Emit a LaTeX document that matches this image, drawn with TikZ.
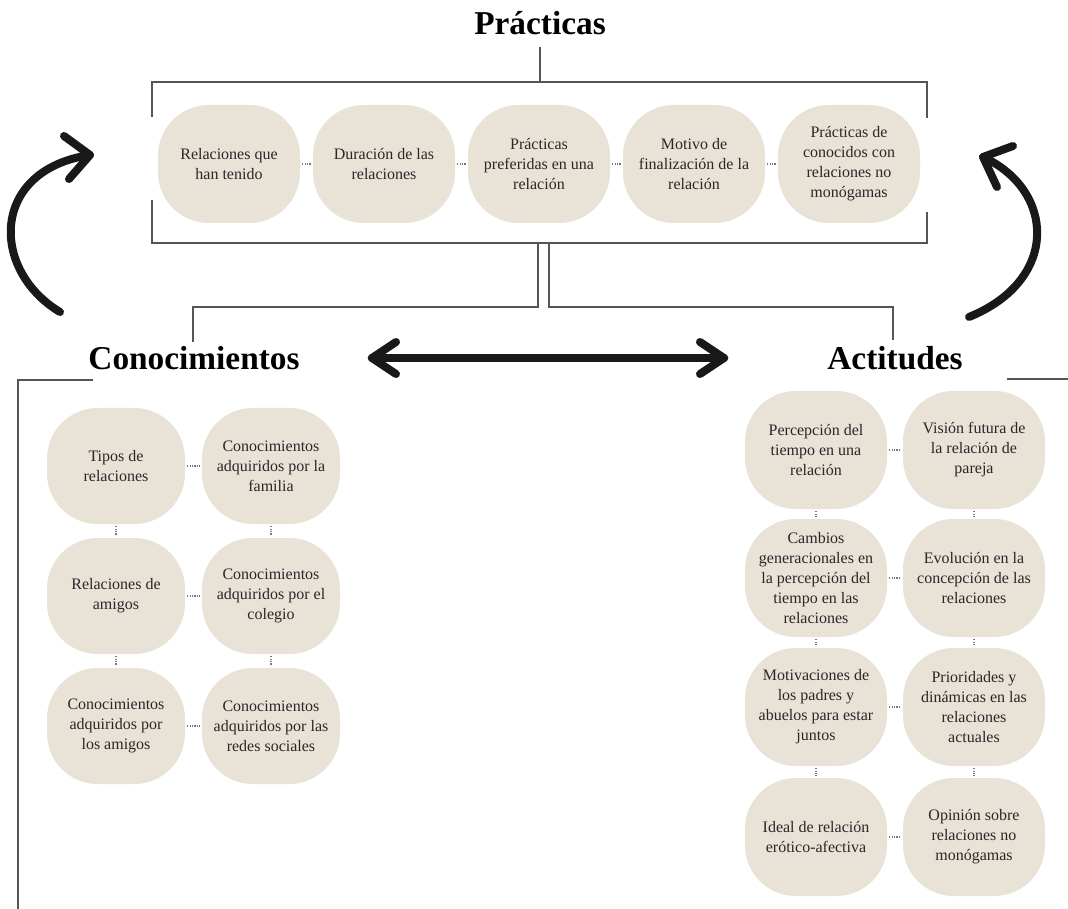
\documentclass[tikz,border=0pt]{standalone}
\usepackage{fontspec}
\setmainfont{Liberation Serif}
\begin{document}
\begin{tikzpicture}[x=0.75pt,y=-0.75pt]
\definecolor{bub}{RGB}{233,226,215}
\definecolor{ln}{RGB}{85,85,85}
\definecolor{txt}{RGB}{40,40,40}
\tikzset{
 bubble/.style={fill=bub, rounded corners=38pt, minimum width=106.5pt, minimum height=88.5pt, inner sep=0pt, align=center, text=txt, font=\fontsize{12}{15}\selectfont},
 cbubble/.style={bubble, minimum width=103.5pt, minimum height=87pt},
 title/.style={font=\fontsize{25}{30}\selectfont\bfseries, anchor=base, inner sep=0pt},
 frame/.style={draw=ln, line width=1.4pt},
 dotc/.style={draw=ln!80, line width=0.8pt, densely dotted, shorten <=1.5pt, shorten >=1.5pt},
 bigarrow/.style={draw=black!90, line width=6pt, line cap=round, line join=round},
}
\useasboundingbox (0,0) rectangle (1068,909);

% titles
\node[title] (tP) at (540,35) {Prácticas};
\node[title] (tC) at (194,370) {Conocimientos};
\node[title] (tA) at (895,370) {Actitudes};

% Practicas bubbles
\node[bubble] (p1) at (229,164) {Relaciones que\\han tenido};
\node[bubble] (p2) at (384,164) {Duración de las\\relaciones};
\node[bubble] (p3) at (539,164) {Prácticas\\preferidas en una\\relación};
\node[bubble] (p4) at (694,164) {Motivo de\\finalización de la\\relación};
\node[bubble] (p5) at (849,164) {Prácticas de\\conocidos con\\relaciones no\\monógamas};
\foreach \a/\b in {p1/p2,p2/p3,p3/p4,p4/p5} \draw[dotc] (\a.east) -- (\b.west);

% Conocimientos bubbles
\node[cbubble] (c11) at (116,466) {Tipos de\\relaciones};
\node[cbubble] (c12) at (271,466) {Conocimientos\\adquiridos por la\\familia};
\node[cbubble] (c21) at (116,596) {Relaciones de\\amigos};
\node[cbubble] (c22) at (271,596) {Conocimientos\\adquiridos por el\\colegio};
\node[cbubble] (c31) at (116,726) {Conocimientos\\adquiridos por\\los amigos};
\node[cbubble] (c32) at (271,726) {Conocimientos\\adquiridos por las\\redes sociales};
\foreach \a/\b in {c11/c12,c21/c22,c31/c32} \draw[dotc] (\a.east) -- (\b.west);
\foreach \a/\b in {c11/c21,c21/c31,c12/c22,c22/c32} \draw[dotc] (\a.south) -- (\b.north);

% Actitudes bubbles
\node[bubble] (a11) at (816,450) {Percepción del\\tiempo en una\\relación};
\node[bubble] (a12) at (974,450) {Visión futura de\\la relación de\\pareja};
\node[bubble] (a21) at (816,578) {Cambios\\generacionales en\\la percepción del\\tiempo en las\\relaciones};
\node[bubble] (a22) at (974,578) {Evolución en la\\concepción de las\\relaciones};
\node[bubble] (a31) at (816,707) {Motivaciones de\\los padres y\\abuelos para estar\\juntos};
\node[bubble] (a32) at (974,707) {Prioridades y\\dinámicas en las\\relaciones\\actuales};
\node[bubble] (a41) at (816,837) {Ideal de relación\\erótico-afectiva};
\node[bubble] (a42) at (974,837) {Opinión sobre\\relaciones no\\monógamas};
\foreach \a/\b in {a11/a12,a21/a22,a31/a32,a41/a42} \draw[dotc] (\a.east) -- (\b.west);
\foreach \a/\b in {a11/a21,a21/a31,a31/a41,a12/a22,a22/a32,a32/a42} \draw[dotc] (\a.south) -- (\b.north);

% frame of Practicas
\draw[frame] (540,47) -- (540,82);
\draw[frame] (152,117) -- (152,82) -- (927,82) -- (927,118);
\draw[frame] (152,200) -- (152,243) -- (927,243) -- (927,212);
% branches
\draw[frame] (538,243) -- (538,307) -- (193,307) -- (193,342);
\draw[frame] (549,243) -- (549,307) -- (893,307) -- (893,340);
% Conocimientos frame
\draw[frame] (93,380) -- (18,380) -- (18,912);
% Actitudes line
\draw[frame] (1007,379) -- (1070,379);

% curved arrows
\coordinate (lt) at (90,155);
\draw[bigarrow] (60,312) .. controls (-10,270) and (-10,170) .. (lt);
\draw[bigarrow] (64,136) -- (lt) -- (69,179);
\coordinate (rt) at (983,157);
\draw[bigarrow] (969,317) .. controls (1060,280) and (1055,190) .. (rt);
\draw[bigarrow] (1013,146) -- (rt) -- (997,187);

% double arrow
\coordinate (dl) at (372,358);
\coordinate (dr) at (724,358);
\draw[bigarrow, line width=6.5pt] (dl) -- (dr);
\draw[bigarrow] (396,342) -- (dl) -- (396,374);
\draw[bigarrow] (700,342) -- (dr) -- (700,374);
\end{tikzpicture}
\end{document}
